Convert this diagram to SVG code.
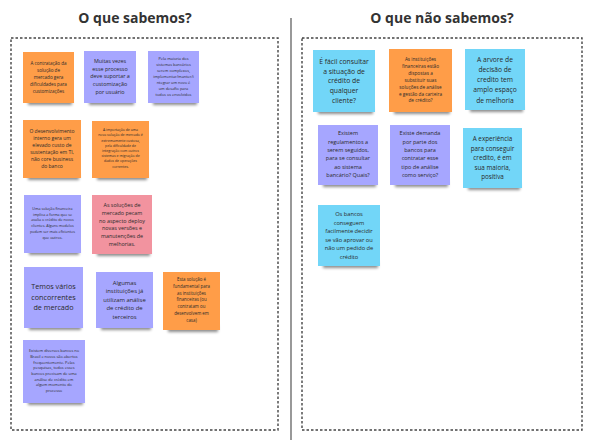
<svg xmlns="http://www.w3.org/2000/svg" width="594" height="444" viewBox="0 0 594 444">
<defs>
<filter id="sh" x="-20%" y="-50%" width="140%" height="200%"><feGaussianBlur stdDeviation="1.6"/></filter>
<style>
.t{font-family:"Open Sans","Liberation Sans",sans-serif;font-weight:bold;font-size:14px;fill:#333;text-anchor:middle}
.box{fill:none;stroke:#444;stroke-width:1.4;stroke-dasharray:2.5 2}
.div{stroke:#444;stroke-width:1.1}
.s{fill:#000;opacity:.45;filter:url(#sh)}
.or{fill:#ff9d48}
.pu{fill:#a6a6ff}
.pk{fill:#f2939f}
.bl{fill:#72d6f8}
.n text{font-family:"Open Sans","Liberation Sans",sans-serif;fill:#2a2a2a;text-anchor:middle}
</style>
</defs>
<rect width="594" height="444" fill="#fff"/>
<text class="t" x="135" y="23">O que sabemos?</text>
<text class="t" x="442" y="23">O que não sabemos?</text>
<g id="frames">
<line class="div" x1="291" y1="18" x2="291" y2="440"/>
<rect class="box" x="11" y="38" width="267" height="392"/>
<rect class="box" x="302" y="38" width="280" height="392"/>
</g>
<g id="edges"></g>

<g id="s1" class="n"><rect class="s" x="28" y="98" width="44" height="7"/><rect class="or" x="23" y="52" width="51" height="51"/>
<text font-size="4.6" y="64.5"><tspan x="48.5">A contratação da</tspan><tspan x="48.5" dy="7">solução de</tspan><tspan x="48.5" dy="7">mercado gera</tspan><tspan x="48.5" dy="7">dificuldades para</tspan><tspan x="48.5" dy="7">customizações</tspan></text></g>

<g id="s2" class="n"><rect class="s" x="89" y="98" width="45" height="7"/><rect class="pu" x="84" y="51" width="52" height="52"/>
<text font-size="5.4" y="62.6"><tspan x="110">Muitas vezes</tspan><tspan x="110" dy="7.9">esse processo</tspan><tspan x="110" dy="7.9">deve suportar a</tspan><tspan x="110" dy="7.9">customização</tspan><tspan x="110" dy="7.9">por usuário</tspan></text></g>

<g id="s3" class="n"><rect class="s" x="153" y="98" width="44" height="7"/><rect class="pu" x="148" y="51" width="51" height="52"/>
<text font-size="3.9" y="59.7"><tspan x="173.5">Pela maioria dos</tspan><tspan x="173.5" dy="6.1">sistemas bancários</tspan><tspan x="173.5" dy="6.1">serem complexos,</tspan><tspan x="173.5" dy="6.1">implementar/manter/i</tspan><tspan x="173.5" dy="6.1">ntegrar um novo é</tspan><tspan x="173.5" dy="6.1">um desafio para</tspan><tspan x="173.5" dy="6.1">todos os envolvidos</tspan></text></g>

<g id="s4" class="n"><rect class="s" x="28" y="173" width="51" height="7"/><rect class="or" x="23" y="120" width="58" height="58"/>
<text font-size="5" y="132.5"><tspan x="52">O desenvolvimento</tspan><tspan x="52" dy="7">interno gera um</tspan><tspan x="52" dy="7">elevado custo de</tspan><tspan x="52" dy="7">sustentação em TI,</tspan><tspan x="52" dy="7">não core business</tspan><tspan x="52" dy="7">do banco</tspan></text></g>

<g id="s5" class="n"><rect class="s" x="97" y="173" width="50" height="7"/><rect class="or" x="92" y="121" width="57" height="57"/>
<text font-size="3.5" y="131.2"><tspan x="120.5">A importação de uma</tspan><tspan x="120.5" dy="5.2">nova solução de mercado é</tspan><tspan x="120.5" dy="5.2">extremamente custosa,</tspan><tspan x="120.5" dy="5.2">pela dificuldade de</tspan><tspan x="120.5" dy="5.2">integração com outros</tspan><tspan x="120.5" dy="5.2">sistemas e migração de</tspan><tspan x="120.5" dy="5.2">dados de operações</tspan><tspan x="120.5" dy="5.2">correntes.</tspan></text></g>

<g id="s6" class="n"><rect class="s" x="29" y="248" width="50" height="7"/><rect class="pu" x="24" y="195" width="57" height="58"/>
<text font-size="3.7" y="209.6"><tspan x="52.5">Uma solução financeira</tspan><tspan x="52.5" dy="5.9">implica a forma que se</tspan><tspan x="52.5" dy="5.9">avalia o crédito de novos</tspan><tspan x="52.5" dy="5.9">clientes. Alguns modelos</tspan><tspan x="52.5" dy="5.9">podem ser mais eficientes</tspan><tspan x="52.5" dy="5.9">que outros.</tspan></text></g>

<g id="s7" class="n"><rect class="s" x="97" y="249" width="53" height="7"/><rect class="pk" x="92" y="195" width="60" height="59"/>
<text font-size="5.4" y="207"><tspan x="122">As soluções de</tspan><tspan x="122" dy="7.8">mercado pecam</tspan><tspan x="122" dy="7.8">no aspecto deploy</tspan><tspan x="122" dy="7.8">novas versões e</tspan><tspan x="122" dy="7.8">manutenções de</tspan><tspan x="122" dy="7.8">melhorias.</tspan></text></g>

<g id="s8" class="n"><rect class="s" x="29" y="323" width="52" height="7"/><rect class="pu" x="24" y="267" width="59" height="61"/>
<text font-size="7.2" y="289.3"><tspan x="53.5">Temos vários</tspan><tspan x="53.5" dy="10.5">concorrentes</tspan><tspan x="53.5" dy="10.5">de mercado</tspan></text></g>

<g id="s9" class="n"><rect class="s" x="101" y="323" width="50" height="7"/><rect class="pu" x="96" y="272" width="57" height="56"/>
<text font-size="5.9" y="284.8"><tspan x="124.5">Algumas</tspan><tspan x="124.5" dy="8.5">instituições já</tspan><tspan x="124.5" dy="8.5">utilizam análise</tspan><tspan x="124.5" dy="8.5">de crédito de</tspan><tspan x="124.5" dy="8.5">terceiros</tspan></text></g>

<g id="s10" class="n"><rect class="s" x="168" y="325" width="50" height="7"/><rect class="or" x="163" y="272" width="57" height="58"/>
<text font-size="4.4" y="280.9"><tspan x="191.5">Esta solução é</tspan><tspan x="191.5" dy="6.8">fundamental para</tspan><tspan x="191.5" dy="6.8">as instituições</tspan><tspan x="191.5" dy="6.8">financeiras (ou</tspan><tspan x="191.5" dy="6.8">contratam ou</tspan><tspan x="191.5" dy="6.8">desenvolvem em</tspan><tspan x="191.5" dy="6.8">casa)</tspan></text></g>

<g id="s11" class="n"><rect class="s" x="28" y="398" width="55" height="7"/><rect class="pu" x="23" y="340" width="62" height="63"/>
<text font-size="3.9" y="352.1"><tspan x="54">Existem diversos bancos no</tspan><tspan x="54" dy="5.7">Brasil e novos são abertos</tspan><tspan x="54" dy="5.7">frequentemente. Pelas</tspan><tspan x="54" dy="5.7">pesquisas, todos esses</tspan><tspan x="54" dy="5.7">bancos precisam de uma</tspan><tspan x="54" dy="5.7">análise de crédito em</tspan><tspan x="54" dy="5.7">algum momento do</tspan><tspan x="54" dy="5.7">processo</tspan></text></g>

<g id="s12" class="n"><rect class="s" x="318" y="107" width="55" height="7"/><rect class="bl" x="313" y="50" width="62" height="62"/>
<text font-size="6.8" y="64.1"><tspan x="344">É fácil consultar</tspan><tspan x="344" dy="9.6">a situação de</tspan><tspan x="344" dy="9.6">crédito de</tspan><tspan x="344" dy="9.6">qualquer</tspan><tspan x="344" dy="9.6">cliente?</tspan></text></g>

<g id="s13" class="n"><rect class="s" x="394" y="107" width="56" height="7"/><rect class="or" x="389" y="49" width="63" height="63"/>
<text font-size="4.7" y="61"><tspan x="420.5">As instituições</tspan><tspan x="420.5" dy="6.9">financeiras estão</tspan><tspan x="420.5" dy="6.9">dispostas a</tspan><tspan x="420.5" dy="6.9">substituir suas</tspan><tspan x="420.5" dy="6.9">soluções de análise</tspan><tspan x="420.5" dy="6.9">e gestão da carteira</tspan><tspan x="420.5" dy="6.9">de crédito?</tspan></text></g>

<g id="s14" class="n"><rect class="s" x="470" y="105" width="53" height="7"/><rect class="bl" x="465" y="49" width="60" height="61"/>
<text font-size="6.7" y="61.7"><tspan x="495">A arvore de</tspan><tspan x="495" dy="10.2">decisão de</tspan><tspan x="495" dy="10.2">credito tem</tspan><tspan x="495" dy="10.2">amplo espaço</tspan><tspan x="495" dy="10.2">de melhoria</tspan></text></g>

<g id="s15" class="n"><rect class="s" x="323" y="180" width="53" height="7"/><rect class="pu" x="318" y="125" width="60" height="60"/>
<text font-size="5.5" y="135.3"><tspan x="348">Existem</tspan><tspan x="348" dy="8.3">regulamentos a</tspan><tspan x="348" dy="8.3">serem seguidos,</tspan><tspan x="348" dy="8.3">para se consultar</tspan><tspan x="348" dy="8.3">ao sistema</tspan><tspan x="348" dy="8.3">bancário? Quais?</tspan></text></g>

<g id="s16" class="n"><rect class="s" x="395" y="180" width="53" height="7"/><rect class="pu" x="390" y="125" width="60" height="60"/>
<text font-size="5.5" y="135.3"><tspan x="420">Existe demanda</tspan><tspan x="420" dy="8.3">por parte dos</tspan><tspan x="420" dy="8.3">bancos para</tspan><tspan x="420" dy="8.3">contratar esse</tspan><tspan x="420" dy="8.3">tipo de análise</tspan><tspan x="420" dy="8.3">como serviço?</tspan></text></g>

<g id="s17" class="n"><rect class="s" x="468" y="183" width="52" height="7"/><rect class="bl" x="463" y="128" width="59" height="60"/>
<text font-size="6.3" y="141.3"><tspan x="492.5">A experiência</tspan><tspan x="492.5" dy="9.4">para conseguir</tspan><tspan x="492.5" dy="9.4">credito, é em</tspan><tspan x="492.5" dy="9.4">sua maioria,</tspan><tspan x="492.5" dy="9.4">positiva</tspan></text></g>

<g id="s18" class="n"><rect class="s" x="323" y="261" width="55" height="7"/><rect class="bl" x="318" y="205" width="62" height="61"/>
<text font-size="5.7" y="216.4"><tspan x="349">Os bancos</tspan><tspan x="349" dy="8.5">conseguem</tspan><tspan x="349" dy="8.5">facilmente decidir</tspan><tspan x="349" dy="8.5">se vão aprovar ou</tspan><tspan x="349" dy="8.5">não um pedido de</tspan><tspan x="349" dy="8.5">crédito</tspan></text></g>
</svg>
